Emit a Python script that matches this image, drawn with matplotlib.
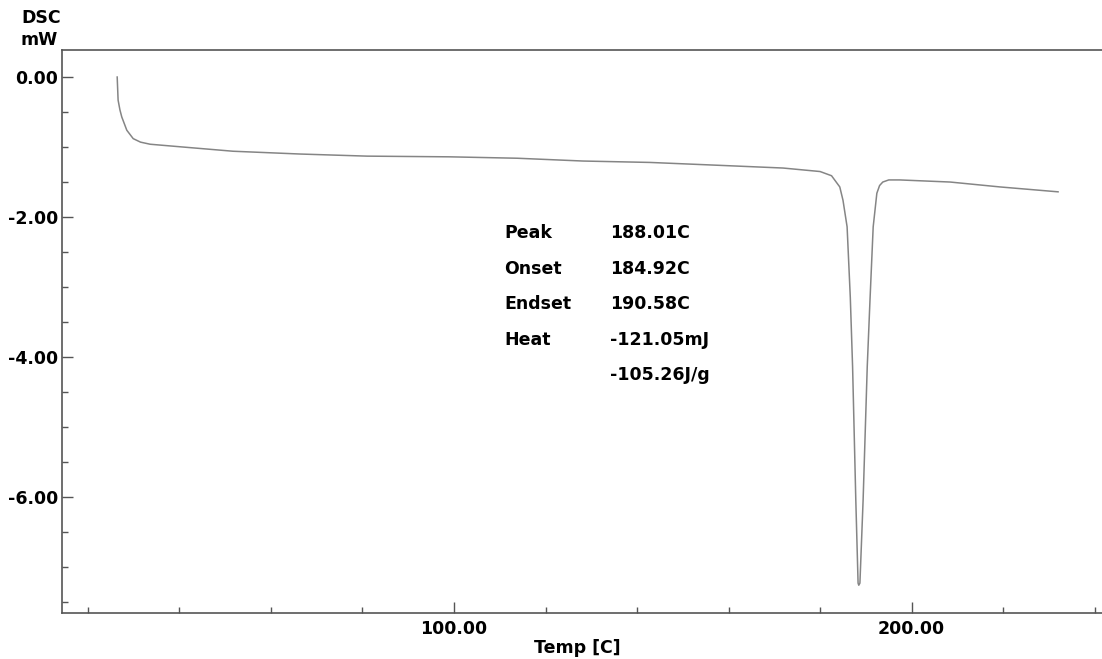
import matplotlib
import matplotlib.pyplot as plt
from matplotlib.ticker import MultipleLocator, FixedLocator

matplotlib.use("Agg")

plt.rcParams["font.family"] = ["DejaVu Sans"]
plt.rcParams["font.weight"] = "bold"

# DSC trace (temp in C, heat flow in mW)
temp = [
    26.4, 26.6, 27.0, 27.4, 28.5, 29.9, 31.5, 33.6, 40.8, 51.7, 66.4, 81.0, 99.1,
    113.8, 128.2, 142.8, 157.5, 171.9, 180.0, 182.5, 184.3, 185.0, 185.9,
    186.6, 187.1, 187.8, 188.3, 188.45, 188.7, 189.4, 190.3, 190.9, 191.6,
    192.4, 193.0, 193.7, 195.0, 197.4, 208.4, 219.3, 232.0,
]
dsc = [
    0.00, -0.33, -0.47, -0.57, -0.76, -0.88, -0.93, -0.96, -1.00, -1.06, -1.10, -1.13, -1.14,
    -1.16, -1.20, -1.22, -1.26, -1.30, -1.35, -1.41, -1.57, -1.76, -2.14,
    -3.15, -4.14, -6.04, -7.23, -7.26, -7.23, -6.04, -4.14, -3.19, -2.14,
    -1.66, -1.55, -1.50, -1.47, -1.47, -1.50, -1.57, -1.64,
]

result_labels = ["Peak", "Onset", "Endset", "Heat", ""]
result_values = ["188.01C", "184.92C", "190.58C", "-121.05mJ", "-105.26J/g"]

x_major = [100, 200]
y_major = [0, -2, -4, -6]

fs = 12.5

fig = plt.figure(figsize=(11.02, 6.59), dpi=100)
ax = fig.add_axes([0.0563, 0.0698, 0.9437, 0.8543])

ax.plot(temp, dsc, color="#858585", linewidth=1.1)

ax.set_xlim(14.35, 241.6)
ax.set_ylim(-7.657, 0.386)

ax.xaxis.set_major_locator(FixedLocator(x_major))
ax.xaxis.set_minor_locator(MultipleLocator(20))
ax.yaxis.set_major_locator(FixedLocator(y_major))
ax.yaxis.set_minor_locator(MultipleLocator(0.5))
ax.set_xticklabels([f"{v:.2f}" for v in x_major])
ax.set_yticklabels([f"{v:.2f}" for v in y_major])

ax.tick_params(which="both", direction="in", color="#555555", width=1, labelsize=fs)
ax.tick_params(axis="x", pad=5)
ax.tick_params(axis="y", pad=3)
ax.tick_params(which="major", length=8)
ax.tick_params(which="minor", length=4)
ax.tick_params(axis="x", which="both", top=False)
ax.tick_params(axis="y", which="both", right=False)

for side in ["left", "bottom", "top"]:
    ax.spines[side].set_color("#555555")
    ax.spines[side].set_linewidth(1.2)
ax.spines["right"].set_visible(False)

ax.set_xlabel("Temp [C]", fontsize=fs, fontweight="bold")
ax.xaxis.set_label_coords(0.4952, -0.047)

fig.text(21 / 1102, 1 - 18 / 659, "DSC", fontsize=fs, fontweight="bold", va="center", ha="left")
fig.text(21 / 1102, 1 - 40 / 659, "mW", fontsize=fs, fontweight="bold", va="center", ha="left")

# results block
row_y = [233, 269, 304, 340, 375]
for lab, val, yy in zip(result_labels, result_values, row_y):
    if lab:
        fig.text(504 / 1102, 1 - yy / 659, lab, fontsize=fs, fontweight="bold", va="center", ha="left")
    fig.text(610 / 1102, 1 - yy / 659, val, fontsize=fs, fontweight="bold", va="center", ha="left")

fig.savefig("out.png", dpi=100)
plt.close(fig)
